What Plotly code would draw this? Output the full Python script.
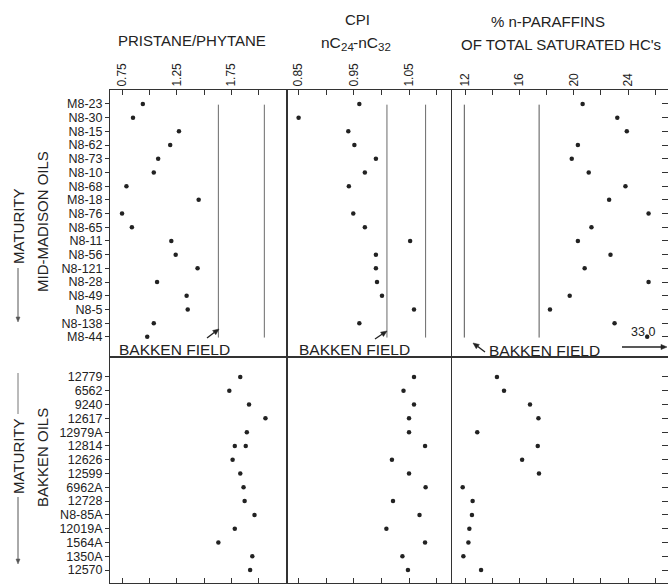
import math
import plotly.graph_objects as go

# ---------------- data ----------------
madison_samples = ["M8-23", "N8-30", "N8-15", "N8-62", "N8-73", "N8-10", "N8-68", "M8-18", "N8-76",
                   "N8-65", "N8-11", "N8-56", "N8-121", "N8-28", "N8-49", "N8-5", "N8-138", "M8-44"]
madison_pristane_phytane = [0.94, 0.85, 1.27, 1.19, 1.08, 1.04, 0.79, 1.45, 0.75,
                            0.84, 1.20, 1.24, 1.44, 1.07, 1.34, 1.35, 1.04, 0.98]
madison_cpi = [0.960, 0.850, 0.940, 0.951, 0.990, 0.970, 0.941, None, 0.949,
               0.970, 1.052, 0.990, 0.990, 0.992, 1.001, 1.059, 0.960, None]
madison_paraffins = [20.65, 23.2, 23.9, 20.3, 19.85, 21.1, 23.8, 22.6, 25.5,
                     21.3, 20.3, 22.7, 20.8, 25.5, 19.7, 18.25, 23.0, 33.0]

bakken_samples = ["12779", "6562", "9240", "12617", "12979A", "12814", "12626", "12599",
                  "6962A", "12728", "N8-85A", "12019A", "1564A", "1350A", "12570"]
bakken_pristane_phytane = [1.83, 1.73, 1.91, 2.06, 1.89, 1.78, 1.76, 1.83,
                           1.86, 1.87, 1.96, 1.78, 1.63, 1.94, 1.92]
bakken_pp_extra_samples = ["12814"]
bakken_pp_extra = [1.88]
bakken_cpi = [1.059, 1.040, 1.059, 1.050, 1.050, 1.079, 1.019, 1.050,
              1.080, 1.021, 1.069, 1.009, 1.079, 1.038, 1.048]
bakken_paraffins = [14.35, 14.87, 16.78, 17.40, 12.90, 17.35, 16.20, 17.44,
                    11.83, 12.56, 12.51, 12.32, 12.25, 11.88, 13.18]

# Bakken field ranges (reference lines in the upper panels)
bakken_range_pp = [1.63, 2.05]
bakken_range_cpi = [1.01, 1.08]
bakken_range_paraffins = [11.95, 17.45]

pp_major = [0.75, 1.25, 1.75]
pp_minor = [1.0, 1.5, 2.0]
cpi_major = [0.85, 0.95, 1.05]
cpi_minor = [0.90, 1.00, 1.10]
par_major = [12, 16, 20, 24]
par_minor = [14, 18, 22, 26]

paraffin_offscale_limit = 25.4  # off-scale value is drawn at the edge with an arrow

# ---------------- geometry ----------------
W, H = 668, 587
def px(x): return x / W
def py(y): return 1 - y / H

xd1 = [px(110), px(287)]
xd2 = [px(287), px(451)]
xd3 = [px(451), 1.0]
yd_top = [py(357), py(90)]
yd_bot = [py(583), py(357)]

ink = "#222222"
font_family = "Liberation Sans, Arial, sans-serif"

fig = go.Figure()

mk = dict(color="#222222", size=4.5)

top_idx = list(range(len(madison_samples)))
bot_idx = list(range(len(bakken_samples)))

fig.add_trace(go.Scatter(x=madison_pristane_phytane, y=top_idx, mode="markers", marker=mk,
                         xaxis="x", yaxis="y", showlegend=False))
fig.add_trace(go.Scatter(x=madison_cpi, y=top_idx, mode="markers", marker=mk,
                         xaxis="x2", yaxis="y2", showlegend=False))
par_plot = [v if v <= paraffin_offscale_limit + 1 else paraffin_offscale_limit for v in madison_paraffins]
fig.add_trace(go.Scatter(x=par_plot, y=top_idx, mode="markers", marker=mk,
                         xaxis="x3", yaxis="y3", showlegend=False))

fig.add_trace(go.Scatter(x=bakken_pristane_phytane, y=bot_idx, mode="markers", marker=mk,
                         xaxis="x4", yaxis="y4", showlegend=False))
fig.add_trace(go.Scatter(x=bakken_pp_extra,
                         y=[bakken_samples.index(s) for s in bakken_pp_extra_samples],
                         mode="markers", marker=mk, xaxis="x4", yaxis="y4", showlegend=False))
fig.add_trace(go.Scatter(x=bakken_cpi, y=bot_idx, mode="markers", marker=mk,
                         xaxis="x5", yaxis="y5", showlegend=False))
fig.add_trace(go.Scatter(x=bakken_paraffins, y=bot_idx, mode="markers", marker=mk,
                         xaxis="x6", yaxis="y6", showlegend=False))

top_range = [18.47, -1.02]
bot_range = [14.94, -1.45]
line_c = "#333333"

def xax(domain, anchor, rng, major, minor, top):
    d = dict(domain=domain, anchor=anchor, range=rng, showgrid=False, zeroline=False,
             showline=True, mirror=True, linecolor=line_c, linewidth=1,
             ticks="inside", ticklen=5, tickcolor=line_c, tickmode="array", tickvals=major,
             minor=dict(tickmode="array", tickvals=minor, ticks="inside", ticklen=5,
                        tickcolor=line_c, showgrid=False))
    if top:
        d.update(side="top", ticktext=[f"{v:g}" if isinstance(v, int) else f"{v:.2f}" for v in major],
                 tickangle=-90, tickfont=dict(family=font_family, size=12, color=ink))
    else:
        d.update(side="bottom", showticklabels=False)
    return d

def yax(domain, anchor, rng, labels, kind="left"):
    d = dict(domain=domain, anchor=anchor, range=rng, showgrid=False, zeroline=False,
             tickmode="array", tickvals=list(range(len(labels))))
    if kind == "left":
        d.update(showline=True, mirror=True, linecolor=line_c, linewidth=1,
                 ticks="outside", ticklen=4, tickcolor=line_c, ticktext=labels,
                 tickfont=dict(family=font_family, size=12.5, color=ink))
    elif kind == "mid":
        d.update(showline=True, mirror=True, linecolor=line_c, linewidth=1,
                 ticks="", showticklabels=False)
    else:
        d.update(side="right", showline=False, ticks="inside", ticklen=6,
                 tickcolor=line_c, showticklabels=False)
    return d

fig.update_layout(
    width=W, height=H, margin=dict(l=0, r=0, t=0, b=0),
    paper_bgcolor="white", plot_bgcolor="white",
    xaxis=xax(xd1, "y", [0.64, 2.257], pp_major, pp_minor, True),
    xaxis2=xax(xd2, "y2", [0.829, 1.126], cpi_major, cpi_minor, True),
    xaxis3=xax(xd3, "y3", [10.97, 26.93], par_major, par_minor, True),
    xaxis4=xax(xd1, "y4", [0.64, 2.257], pp_major, pp_minor, False),
    xaxis5=xax(xd2, "y5", [0.829, 1.126], cpi_major, cpi_minor, False),
    xaxis6=xax(xd3, "y6", [10.97, 26.93], par_major, par_minor, False),
    yaxis=yax(yd_top, "x", top_range, madison_samples, "left"),
    yaxis2=yax(yd_top, "x2", top_range, madison_samples, "mid"),
    yaxis3=yax(yd_top, "x3", top_range, madison_samples, "right"),
    yaxis4=yax(yd_bot, "x4", bot_range, bakken_samples, "left"),
    yaxis5=yax(yd_bot, "x5", bot_range, bakken_samples, "mid"),
    yaxis6=yax(yd_bot, "x6", bot_range, bakken_samples, "right"),
)

# Bakken field reference lines (upper panels)
for xr, yr, vals, col in [("x", "y", bakken_range_pp, "#6a6a6a"),
                          ("x2", "y2", bakken_range_cpi, "#6a6a6a"),
                          ("x3", "y3", bakken_range_paraffins, "#555555")]:
    for v in vals:
        fig.add_shape(type="line", xref=xr, yref=yr, x0=v, x1=v, y0=0.05, y1=17.05,
                      line=dict(color=col, width=1))

ann = []
def text(x, y, s, size=15, angle=0, color=ink):
    ann.append(dict(x=px(x), y=py(y), xref="paper", yref="paper", text=s, showarrow=False,
                    textangle=angle, font=dict(family=font_family, size=size, color=color),
                    xanchor="center", yanchor="middle"))

text(192, 41, "PRISTANE/PHYTANE")
text(358, 19, "CPI")
# nC24-nC32 built from pieces (subscripts as smaller text)
text(330.7, 42, "nC", size=15.5)
text(347.0, 46.5, "24", size=11.5)
text(365.9, 42, "-nC", size=15.5)
text(384.8, 46.5, "32", size=11.5)
text(548, 21, "% n-PARAFFINS")
text(561, 45, "OF TOTAL SATURATED HC's")

text(174, 349, "BAKKEN FIELD", size=15.5)
text(354, 349, "BAKKEN FIELD", size=15.5)
text(544, 350, "BAKKEN FIELD", size=15.5)
text(643, 332, "33.0", size=12.5)

text(42, 222, "MID-MADISON OILS", angle=-90)
text(18, 226, "MATURITY", angle=-90)
text(42, 458, "BAKKEN OILS", angle=-90)
text(18, 456, "MATURITY", angle=-90)

fig.update_layout(annotations=ann)

def arrow(x0, y0, x1, y1, color=ink, width=1.3, hl=6, hw=2.6):
    ang = math.atan2(y1 - y0, x1 - x0)
    bx, by = x1 - hl * math.cos(ang), y1 - hl * math.sin(ang)
    fig.add_shape(type="line", xref="paper", yref="paper", x0=px(x0), y0=py(y0), x1=px(bx), y1=py(by),
                  line=dict(color=color, width=width))
    lx, ly = bx + hw * math.sin(ang), by - hw * math.cos(ang)
    rx, ry = bx - hw * math.sin(ang), by + hw * math.cos(ang)
    path = f"M {px(x1)} {py(y1)} L {px(lx)} {py(ly)} L {px(rx)} {py(ry)} Z"
    fig.add_shape(type="path", xref="paper", yref="paper", path=path,
                  fillcolor=color, line=dict(color=color, width=0.5))

arrow(207, 338, 219, 329)
arrow(375, 339, 387, 331)
arrow(485, 352, 473, 343)
arrow(622, 347, 667, 347)
arrow(18, 268, 18, 322, color="#555555", width=1, hl=5, hw=2)
arrow(18, 497, 18, 564, color="#555555", width=1, hl=5, hw=2)

fig.add_shape(type="line", xref="paper", yref="paper", x0=px(18), x1=px(18), y0=py(373), y1=py(414),
              line=dict(color="#777777", width=1))

fig.write_html("out.html")
